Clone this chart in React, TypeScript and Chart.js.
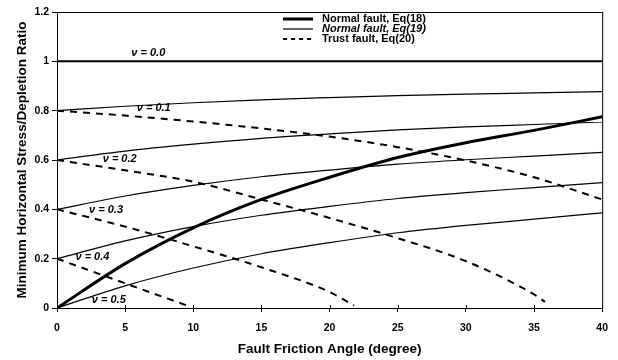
import React, { useEffect, useRef } from "react";
import { Chart, registerables } from "chart.js";

Chart.register(...registerables);

// Friction angle (degree)
const angles = [0, 5, 10, 15, 20, 25, 30, 35, 40];

// Normal fault, Eq(18) (independent of Poisson's ratio)
const eq18 = [0, 0.18, 0.325, 0.44, 0.53, 0.61, 0.67, 0.72, 0.775];

// Normal fault, Eq(19)
const eq19Nu00 = [1, 1, 1, 1, 1, 1, 1, 1, 1];
const eq19Nu01 = [0.8, 0.818, 0.832, 0.844, 0.853, 0.861, 0.867, 0.872, 0.877];
const eq19Nu02 = [0.6, 0.636, 0.664, 0.688, 0.706, 0.722, 0.734, 0.744, 0.754];
const eq19Nu03 = [0.4, 0.454, 0.497, 0.532, 0.559, 0.583, 0.601, 0.616, 0.631];
const eq19Nu04 = [0.2, 0.272, 0.33, 0.376, 0.412, 0.444, 0.468, 0.488, 0.508];
const eq19Nu05 = [0, 0.09, 0.162, 0.22, 0.265, 0.305, 0.335, 0.36, 0.386];

// Thrust fault, Eq(20)
const eq20Nu01X = [0, 5, 10, 15, 20, 25, 30, 35, 40];
const eq20Nu01Y = [0.8, 0.78, 0.756, 0.728, 0.695, 0.652, 0.598, 0.53, 0.44];
const eq20Nu02X = [0, 5, 10, 15, 20, 25, 30, 35, 35.8];
const eq20Nu02Y = [0.6, 0.558, 0.512, 0.44, 0.365, 0.283, 0.19, 0.055, 0.025];
const eq20Nu03X = [0, 5, 10, 15, 20, 21.8];
const eq20Nu03Y = [0.4, 0.33, 0.25, 0.165, 0.065, 0.01];
const eq20Nu04X = [0, 5, 9.8];
const eq20Nu04Y = [0.2, 0.1, 0.005];

// Curve labels (Poisson's ratio) and their anchor values
const curveLabels = ["ν = 0.0", "ν = 0.1", "ν = 0.2", "ν = 0.3", "ν = 0.4", "ν = 0.5"];
const curveLabelX = [6.7, 7.1, 4.6, 3.6, 2.6, 3.8];
const curveLabelY = [1.035, 0.81, 0.604, 0.397, 0.207, 0.032];

const legendLabels = ["Normal fault, Eq(18)", "Normal fault, Eq(19)", "Trust fault, Eq(20)"];

const xTitle = "Fault Friction Angle (degree)";
const yTitle = "Minimum Horizontal Stress/Depletion Ratio";

const FONT = "'Liberation Sans', Arial, Helvetica, sans-serif";

const toPts = (xs: number[], ys: number[]) => xs.map((x, i) => ({ x, y: ys[i] }));

const overlayPlugin = {
  id: "overlay",
  afterDatasetsDraw(chart: any) {
    const { ctx, chartArea, scales } = chart;
    const xs = scales.x;
    const ys = scales.y;
    ctx.save();
    // frame
    ctx.strokeStyle = "#000";
    ctx.lineWidth = 1;
    ctx.strokeRect(chartArea.left + 0.5, chartArea.top + 0.5, chartArea.right - chartArea.left, chartArea.bottom - chartArea.top);
    // inner tick marks on x axis
    ctx.beginPath();
    xs.ticks.forEach((t: any) => {
      const px = Math.round(xs.getPixelForValue(t.value)) + 0.5;
      ctx.moveTo(px, chartArea.bottom);
      ctx.lineTo(px, chartArea.bottom - 3);
    });
    ctx.stroke();

    // curve labels
    ctx.fillStyle = "#000";
    ctx.font = `italic bold 11px ${FONT}`;
    ctx.textAlign = "center";
    ctx.textBaseline = "middle";
    curveLabels.forEach((lab, i) => {
      ctx.fillText(lab, xs.getPixelForValue(curveLabelX[i]), ys.getPixelForValue(curveLabelY[i]));
    });

    // legend
    const lx0 = 283;
    const lx1 = 313;
    const tx = 322;
    const rows = [19, 29, 39];
    const widths = [3, 1.2, 2];
    const dashes: number[][] = [[], [], [4, 4]];
    const styles = ["bold", "italic bold", "bold"];
    rows.forEach((ry, i) => {
      ctx.beginPath();
      ctx.lineWidth = widths[i];
      ctx.setLineDash(dashes[i]);
      ctx.moveTo(lx0, ry);
      ctx.lineTo(lx1, ry);
      ctx.stroke();
      ctx.setLineDash([]);
      ctx.font = `${styles[i]} 11px ${FONT}`;
      ctx.textAlign = "left";
      ctx.textBaseline = "middle";
      ctx.fillText(legendLabels[i], tx, ry);
    });
    ctx.restore();
  },
};

export default function App() {
  const ref = useRef<HTMLCanvasElement | null>(null);

  useEffect(() => {
    if (!ref.current) return;
    const thin = (data: number[]) => ({
      data: toPts(angles, data),
      borderColor: "#000",
      borderWidth: 1.2,
      pointRadius: 0,
      cubicInterpolationMode: "monotone" as const,
      fill: false,
    });
    const dashed = (xs: number[], ys: number[]) => ({
      data: toPts(xs, ys),
      borderColor: "#000",
      borderWidth: 2,
      borderDash: [7, 6],
      pointRadius: 0,
      cubicInterpolationMode: "monotone" as const,
      fill: false,
    });
    const chart = new Chart(ref.current, {
      type: "line",
      data: {
        datasets: [
          { ...thin(eq19Nu00), borderWidth: 2 },
          thin(eq19Nu01),
          thin(eq19Nu02),
          thin(eq19Nu03),
          thin(eq19Nu04),
          thin(eq19Nu05),
          dashed(eq20Nu01X, eq20Nu01Y),
          dashed(eq20Nu02X, eq20Nu02Y),
          dashed(eq20Nu03X, eq20Nu03Y),
          dashed(eq20Nu04X, eq20Nu04Y),
          {
            data: toPts(angles, eq18),
            borderColor: "#000",
            borderWidth: 3,
            pointRadius: 0,
            cubicInterpolationMode: "monotone" as const,
            fill: false,
          },
        ],
      },
      options: {
        responsive: false,
        animation: false,
        devicePixelRatio: 1,
        layout: { padding: { top: 12, right: 8, left: 0, bottom: 0 } },
        plugins: { legend: { display: false }, tooltip: { enabled: false } },
        scales: {
          x: {
            type: "linear",
            min: 0,
            max: 40,
            ticks: {
              stepSize: 5,
              color: "#000",
              padding: 10,
              maxRotation: 0,
              font: { family: FONT, size: 10.5, weight: "bold" },
            },
            grid: { drawOnChartArea: false, drawTicks: true, tickLength: 4, color: "#000" },
            border: { display: true, color: "#000", width: 1 },
            title: {
              display: true,
              text: xTitle,
              color: "#000",
              padding: { top: 0, bottom: 3 },
              font: { family: FONT, size: 13.5, weight: "bold" },
            },
            afterFit: (s: any) => {
              s.height = 52;
            },
          },
          y: {
            type: "linear",
            min: 0,
            max: 1.2,
            ticks: {
              stepSize: 0.2,
              color: "#000",
              padding: 3,
              font: { family: FONT, size: 10.5, weight: "bold" },
              callback: (v: any) => String(Number(Number(v).toFixed(1))),
            },
            grid: { drawOnChartArea: false, drawTicks: true, tickLength: 5, color: "#000" },
            border: { display: true, color: "#000", width: 1 },
            title: {
              display: true,
              text: yTitle,
              color: "#000",
              padding: { top: 14, bottom: 0 },
              font: { family: FONT, size: 13.5, weight: "bold" },
            },
            afterFit: (s: any) => {
              s.width = 57;
            },
          },
        },
      },
      plugins: [overlayPlugin],
    });
    return () => chart.destroy();
  }, []);

  return (
    <div style={{ position: "absolute", left: 0, top: 0, width: 618, height: 360, background: "#fff" }}>
      <canvas ref={ref} width={618} height={360} style={{ display: "block" }} />
    </div>
  );
}
